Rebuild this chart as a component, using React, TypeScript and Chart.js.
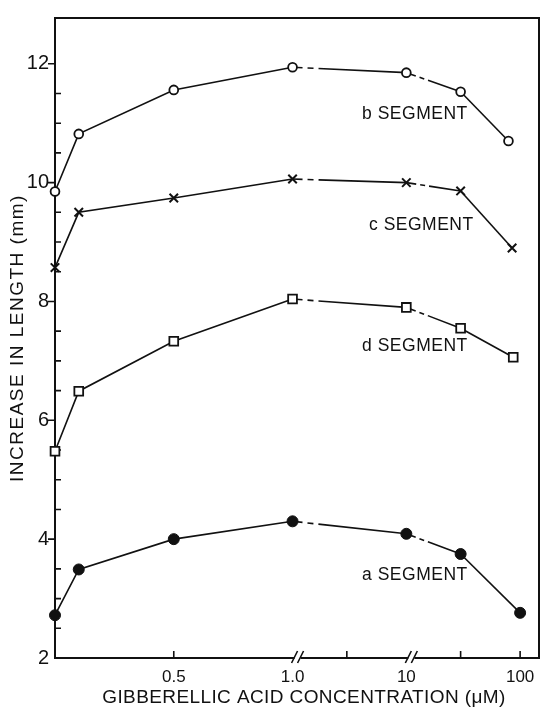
import React, { useEffect, useRef } from 'react';
import { Chart, registerables } from 'chart.js';

Chart.register(...registerables);

// ---- data (concentration in µM, increase in length in mm) ----
const CONC_COMMON = [0, 0.1, 0.5, 1, 10, 30];
const A_CONC = [...CONC_COMMON, 100];
const B_CONC = [...CONC_COMMON, 79];
const C_CONC = [...CONC_COMMON, 85];
const D_CONC = [...CONC_COMMON, 87];
const A_VALUES = [2.72, 3.49, 4.0, 4.3, 4.09, 3.75, 2.76];
const B_VALUES = [9.85, 10.82, 11.56, 11.94, 11.85, 11.53, 10.7];
const C_VALUES = [8.57, 9.5, 9.74, 10.06, 10.0, 9.86, 8.9];
const D_VALUES = [5.48, 6.49, 7.33, 8.04, 7.9, 7.55, 7.06];
const SERIES_NAMES = ['a SEGMENT', 'b SEGMENT', 'c SEGMENT', 'd SEGMENT'];

// ---- axes ----
const Y_TICK_LABELS = [2, 4, 6, 8, 10, 12];
const Y_MINOR = [2.5, 3, 3.5, 4.5, 5, 5.5, 6.5, 7, 7.5, 8.5, 9, 9.5, 10.5, 11, 11.5];
const X_TICK_VALUES = [0.5, 1, 10, 100];
const X_TICK_LABELS = ['0.5', '1.0', '10', '100'];
const X_MINOR = [0.5, 3, 30, 100];
const X_BREAKS = [1, 10];
const X_TITLE = 'GIBBERELLIC ACID CONCENTRATION (\u03BCM)';
const Y_TITLE = 'INCREASE IN LENGTH (mm)';

// label anchors (axis position units, mm)
const LABEL_POS = [1.7375, 1.7375, 1.7625, 1.7375];
const LABEL_Y = [3.39, 11.15, 9.29, 7.24];

// broken axis: linear 0..1, then log decades
const DECADE = 0.479;
const pos = (c: number) => (c <= 1 ? c : 1 + DECADE * Math.log10(c));

const FONT = "'Liberation Sans', Arial, sans-serif";
const INK = '#111';

const dashFor = (ctx: any) =>
  ctx.p0DataIndex === 3 ? [10, 5, 6, 5, 1000, 0] : ctx.p0DataIndex === 4 ? [10, 4, 5, 4, 1000, 0] : undefined;

const toPoints = (xs: number[], ys: number[]) => xs.map((c, i) => ({ x: pos(c), y: ys[i] }));

const decor = {
  id: 'decor',
  beforeDraw(chart: any) {
    const ctx = chart.ctx;
    ctx.save();
    ctx.fillStyle = '#fff';
    ctx.fillRect(0, 0, chart.width, chart.height);
    ctx.restore();
  },
  beforeDatasetsDraw(chart: any) {
    const ctx = chart.ctx;
    const { left, right, top, bottom } = chart.chartArea;
    const xs = chart.scales.x;
    const ys = chart.scales.y;
    ctx.save();
    ctx.strokeStyle = INK;
    ctx.lineCap = 'square';
    ctx.lineWidth = 2;
    ctx.beginPath();
    ctx.moveTo(left, bottom);
    ctx.lineTo(left, top);
    ctx.lineTo(right, top);
    ctx.lineTo(right, bottom);
    ctx.stroke();
    // bottom axis with breaks
    const bxs = X_BREAKS.map((v) => xs.getPixelForValue(pos(v)) + 5);
    ctx.lineCap = 'butt';
    ctx.beginPath();
    let start = left - 1;
    for (const bx of bxs) {
      ctx.moveTo(start, bottom);
      ctx.lineTo(bx - 3, bottom);
      start = bx + 3;
    }
    ctx.moveTo(start, bottom);
    ctx.lineTo(right + 1, bottom);
    ctx.stroke();
    ctx.lineWidth = 1.6;
    ctx.beginPath();
    for (const bx of bxs) {
      for (const s of [bx - 3, bx + 3]) {
        ctx.moveTo(s - 3, bottom + 5);
        ctx.lineTo(s + 3, bottom - 7);
      }
    }
    ctx.stroke();
    // ticks
    ctx.lineWidth = 1.6;
    ctx.beginPath();
    for (const v of Y_TICK_LABELS) {
      if (v === 2) continue;
      const y = ys.getPixelForValue(v);
      ctx.moveTo(left - 7, y);
      ctx.lineTo(left, y);
    }
    for (const v of Y_MINOR) {
      const y = ys.getPixelForValue(v);
      ctx.moveTo(left, y);
      ctx.lineTo(left + 6, y);
    }
    for (const v of X_MINOR) {
      const x = xs.getPixelForValue(pos(v));
      ctx.moveTo(x, bottom);
      ctx.lineTo(x, bottom - 7);
    }
    ctx.stroke();
    ctx.restore();
  },
  afterDraw(chart: any) {
    const ctx = chart.ctx;
    const xs = chart.scales.x;
    const ys = chart.scales.y;
    const { left, right } = chart.chartArea;
    ctx.save();
    ctx.fillStyle = INK;
    ctx.textBaseline = 'middle';
    // segment labels
    ctx.font = `17.5px ${FONT}`;
    (ctx as any).letterSpacing = '0.5px';
    ctx.textAlign = 'right';
    SERIES_NAMES.forEach((name, i) => {
      ctx.fillText(name, xs.getPixelForValue(LABEL_POS[i]), ys.getPixelForValue(LABEL_Y[i]));
    });
    // x title
    ctx.textAlign = 'center';
    ctx.font = `19px ${FONT}`;
    (ctx as any).letterSpacing = '0.4px';
    ctx.fillText(X_TITLE, (left + right) / 2 + 7, 698);
    // y title
    (ctx as any).letterSpacing = '1.5px';
    ctx.translate(18, (ys.top + ys.bottom) / 2);
    ctx.rotate(-Math.PI / 2);
    ctx.fillText(Y_TITLE, 0, 0);
    (ctx as any).letterSpacing = '0px';
    ctx.restore();
  },
};

export default function App() {
  const ref = useRef<HTMLCanvasElement>(null);
  useEffect(() => {
    const common = {
      borderColor: INK,
      borderWidth: 1.6,
      pointBorderColor: INK,
      tension: 0,
      clip: false as any,
      segment: { borderDash: dashFor },
    };
    const chart = new Chart(ref.current as HTMLCanvasElement, {
      type: 'line',
      data: {
        datasets: [
          {
            ...common,
            label: SERIES_NAMES[0],
            data: toPoints(A_CONC, A_VALUES),
            pointStyle: 'circle',
            pointRadius: 5.5,
            pointBackgroundColor: INK,
            pointBorderWidth: 1,
          },
          {
            ...common,
            label: SERIES_NAMES[1],
            data: toPoints(B_CONC, B_VALUES),
            pointStyle: 'circle',
            pointRadius: 4.4,
            pointBackgroundColor: '#fff',
            pointBorderWidth: 1.8,
          },
          {
            ...common,
            label: SERIES_NAMES[2],
            data: toPoints(C_CONC, C_VALUES),
            pointStyle: 'crossRot',
            pointRadius: 6,
            pointBackgroundColor: INK,
            pointBorderWidth: 2,
          },
          {
            ...common,
            label: SERIES_NAMES[3],
            data: toPoints(D_CONC, D_VALUES),
            pointStyle: 'rect',
            pointRadius: 6.2,
            pointBackgroundColor: '#fff',
            pointBorderWidth: 1.8,
          },
        ],
      },
      options: {
        animation: false,
        responsive: true,
        maintainAspectRatio: false,
        devicePixelRatio: 1,
        events: [],
        layout: { padding: { left: 0, top: 15, right: 3, bottom: 0 } },
        plugins: { legend: { display: false }, tooltip: { enabled: false } },
        scales: {
          x: {
            type: 'linear',
            min: 0,
            max: 2.0375,
            grid: { display: false, drawTicks: false },
            border: { display: false },
            afterBuildTicks: (s: any) => {
              s.ticks = X_TICK_VALUES.map((v) => ({ value: pos(v) }));
            },
            afterFit: (s: any) => {
              s.height = 51;
            },
            ticks: {
              autoSkip: false,
              maxRotation: 0,
              padding: 9,
              color: INK,
              font: { family: FONT, size: 17 },
              callback: (_v: any, i: number) => X_TICK_LABELS[i],
            },
          },
          y: {
            type: 'linear',
            min: 2,
            max: 12.77,
            grid: { display: false, drawTicks: false },
            border: { display: false },
            afterBuildTicks: (s: any) => {
              s.ticks = Y_TICK_LABELS.map((v) => ({ value: v }));
            },
            afterFit: (s: any) => {
              s.width = 55;
            },
            ticks: {
              autoSkip: false,
              padding: 6,
              color: INK,
              font: { family: FONT, size: 20 },
              callback: (v: any) => String(v),
            },
          },
        },
      },
      plugins: [decor],
    } as any);
    return () => chart.destroy();
  }, []);
  return (
    <div style={{ position: 'absolute', left: 0, top: 0, width: 547, height: 709, background: '#fff' }}>
      <canvas ref={ref} />
    </div>
  );
}
